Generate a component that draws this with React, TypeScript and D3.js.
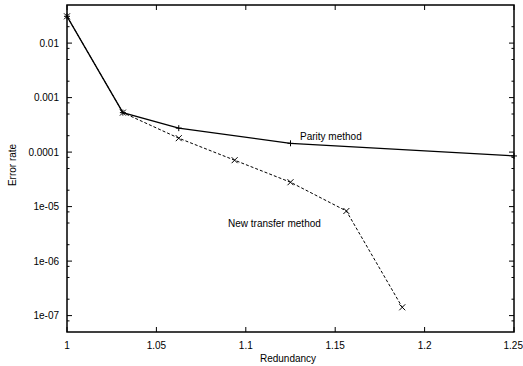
import React from "react";
import * as d3 from "d3";

const parityX = [1, 1.03125, 1.0625, 1.125, 1.25];
const parityY = [0.031, 5.3e-4, 2.75e-4, 1.45e-4, 8.5e-5];
const newX = [1, 1.03125, 1.0625, 1.09375, 1.125, 1.15625, 1.1875];
const newY = [0.031, 5.3e-4, 1.8e-4, 7.1e-5, 2.8e-5, 8.3e-6, 1.42e-7];
const xTicks = [1, 1.05, 1.1, 1.15, 1.2, 1.25];
const xTickLabels = ["1", "1.05", "1.1", "1.15", "1.2", "1.25"];
const yTicks = [0.01, 0.001, 0.0001, 1e-5, 1e-6, 1e-7];
const yTickLabels = ["0.01", "0.001", "0.0001", "1e-05", "1e-06", "1e-07"];
const minorMult = [2, 5, 8];

const W = 523, H = 366;
const L = 67, R = 514, T = 5, B = 332;
const FONT = "'Liberation Sans', Arial, sans-serif";

export default function App() {
  const x = d3.scaleLinear().domain([1, 1.25]).range([L, R]);
  const y = d3.scaleLog().domain([5e-8, 0.05]).range([B, T]);
  const line = d3.line<[number, number]>().x(d => x(d[0])).y(d => y(d[1]));
  const pData: [number, number][] = parityX.map((v, i) => [v, parityY[i]]);
  const nData: [number, number][] = newX.map((v, i) => [v, newY[i]]);
  const minors: number[] = [];
  for (let e = -8; e <= -2; e++) {
    for (const m of minorMult) {
      const v = m * Math.pow(10, e);
      if (v > 5e-8 && v < 0.05) minors.push(v);
    }
  }
  const s = 3;
  return (
    <svg width={W} height={H} style={{ position: "absolute", left: 0, top: 0, background: "#fff" }}>
      <g stroke="#000" strokeWidth={1}>
        {xTicks.map((t, i) => (
          <g key={"xt" + i}>
            <line x1={x(t)} x2={x(t)} y1={B} y2={B - 5} />
            <line x1={x(t)} x2={x(t)} y1={T} y2={T + 5} />
          </g>
        ))}
        {yTicks.map((t, i) => (
          <g key={"yt" + i}>
            <line x1={L} x2={L + 5} y1={y(t)} y2={y(t)} />
            <line x1={R} x2={R - 5} y1={y(t)} y2={y(t)} />
          </g>
        ))}
        {minors.map((t, i) => (
          <g key={"ym" + i}>
            <line x1={L} x2={L + 2.5} y1={y(t)} y2={y(t)} />
            <line x1={R} x2={R - 2.5} y1={y(t)} y2={y(t)} />
          </g>
        ))}
      </g>
      <rect x={L} y={T} width={R - L} height={B - T} fill="none" stroke="#000" strokeWidth={1.5} />
      <g fontFamily={FONT} fontSize={10} fill="#000">
        {xTicks.map((t, i) => {
          const last = i === xTicks.length - 1;
          return (
            <text key={"xl" + i} x={last ? W : x(t)} y={349} textAnchor={last ? "end" : "middle"}>{xTickLabels[i]}</text>
          );
        })}
        {yTicks.map((t, i) => (
          <text key={"yl" + i} x={59} y={y(t) + 3.5} textAnchor="end">{yTickLabels[i]}</text>
        ))}
        <text x={288} y={362} textAnchor="middle">Redundancy</text>
        <text transform={`translate(16,165) rotate(-90)`} textAnchor="middle">Error rate</text>
        <text x={300} y={140}>Parity method</text>
        <text x={228} y={227}>New transfer method</text>
      </g>
      <path d={line(nData) || ""} fill="none" stroke="#000" strokeWidth={1} strokeDasharray="3,2" />
      <path d={line(pData) || ""} fill="none" stroke="#000" strokeWidth={1.3} />
      <g stroke="#000" strokeWidth={1}>
        {pData.map((d, i) => (
          <g key={"pp" + i}>
            <line x1={x(d[0]) - s} x2={x(d[0]) + s} y1={y(d[1])} y2={y(d[1])} />
            <line x1={x(d[0])} x2={x(d[0])} y1={y(d[1]) - s} y2={y(d[1]) + s} />
          </g>
        ))}
        {nData.map((d, i) => (
          <g key={"np" + i}>
            <line x1={x(d[0]) - s} x2={x(d[0]) + s} y1={y(d[1]) - s} y2={y(d[1]) + s} />
            <line x1={x(d[0]) - s} x2={x(d[0]) + s} y1={y(d[1]) + s} y2={y(d[1]) - s} />
          </g>
        ))}
      </g>
    </svg>
  );
}
